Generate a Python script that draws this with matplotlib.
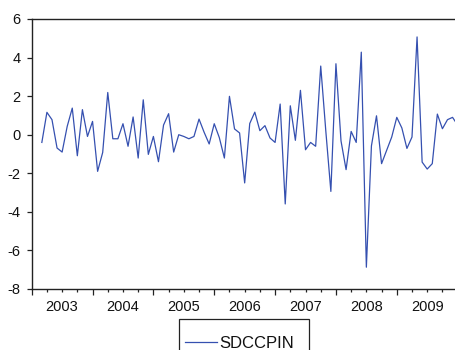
import matplotlib
matplotlib.use('Agg')
from matplotlib import pyplot as plt
from matplotlib.patches import Rectangle
from matplotlib.lines import Line2D
from matplotlib.ticker import FixedLocator, FuncFormatter

# monthly series, starts March 2003 (month index 2 counted from Jan 2003)
start_month = 2
sdccpin = [
    -0.40, 1.16, 0.78, -0.69, -0.90, 0.43, 1.38, -1.09, 1.30, -0.09,
    0.69, -1.90, -0.92, 2.19, -0.21, -0.21, 0.57, -0.60, 0.92, -1.21, 1.81, -1.02,
    -0.09, -1.40, 0.50, 1.09, -0.90, 0.00, -0.09, -0.21, -0.09, 0.81, 0.13, -0.48,
    0.57, -0.15, -1.21, 1.99, 0.30, 0.09, -2.50, 0.58, 1.17, 0.21, 0.47, -0.17,
    -0.40, 1.59, -3.59, 1.50, -0.29, 2.30, -0.78, -0.40, -0.60, 3.56, 0.20, -2.94,
    3.68, -0.32, -1.81, 0.17, -0.40, 4.28, -6.87, -0.58, 0.98, -1.50, -0.81, -0.12,
    0.90, 0.35, -0.71, -0.12, 5.07, -1.42, -1.78, -1.50, 1.07, 0.31, 0.78, 0.90,
    0.50,
]
months = list(range(start_month, start_month + len(sdccpin)))
years = [2003, 2004, 2005, 2006, 2007, 2008, 2009]
y_ticks = [6, 4, 2, 0, -2, -4, -6, -8]

plt.rcParams['font.family'] = ['Liberation Sans', 'DejaVu Sans']

fig = plt.figure(figsize=(4.56, 3.5), dpi=100)
W, H = 456.0, 350.0
# axes runs off the right edge of the picture like in the reference
ax = fig.add_axes([31.7 / W, 61 / H, 431 / W, 270 / H])

line_color = '#3550b0'
ax.plot(months, sdccpin, color=line_color, lw=0.9)

ax.set_xlim(0, 85)
ax.set_ylim(-8, 6)
ax.set_yticks(y_ticks)
ax.set_yticklabels([str(v) for v in y_ticks])

# year ticks (long) + quarter ticks (short), year label in the middle of the year
year_starts = [12 * i for i in range(len(years) + 1)]
quarters = [3 * i for i in range(4 * len(years) + 1) if (3 * i) % 12 != 0]
ax.xaxis.set_major_locator(FixedLocator(year_starts))
ax.xaxis.set_minor_locator(FixedLocator(quarters))
ax.xaxis.set_major_formatter(FuncFormatter(lambda v, p: ''))
ax.xaxis.set_minor_formatter(FuncFormatter(
    lambda v, p: str(years[0] + int(v) // 12) if int(v) % 12 == 6 else ''))

ax.tick_params(axis='x', which='major', direction='out', length=4.3, width=0.9, color='#222222')
ax.tick_params(axis='x', which='minor', direction='out', length=2.2, width=0.9, color='#222222',
               labelsize=10.5, pad=6.0, labelcolor='#111111')
ax.tick_params(axis='y', direction='out', length=3.6, width=0.9, color='#222222',
               labelsize=10.5, pad=4.3, labelcolor='#111111')

for s in ax.spines.values():
    s.set_color('#222222')
    s.set_linewidth(1.0)

# legend box, cut off by the bottom edge like the reference
fig.add_artist(Rectangle((179 / W, -0.1), 130 / W, 0.1 + (1 - 319 / H),
                         transform=fig.transFigure, fill=False, edgecolor='#222222', lw=0.9))
fig.add_artist(Line2D([185 / W, 217 / W], [1 - 342 / H, 1 - 342 / H],
                      transform=fig.transFigure, color=line_color, lw=0.9))
fig.text(219 / W, 1 - 347.7 / H, 'SDCCPIN', fontsize=12, va='baseline', ha='left', color='#111111')

fig.savefig('out.png', dpi=100)
